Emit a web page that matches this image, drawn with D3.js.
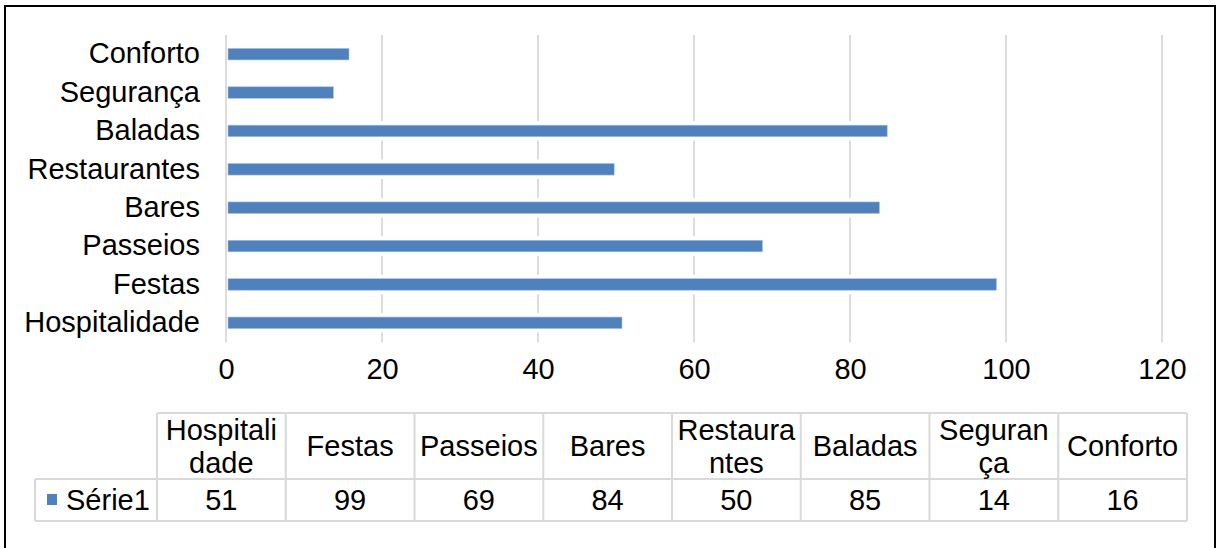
<!DOCTYPE html>
<html><head><meta charset="utf-8">
<script src="https://cdn.jsdelivr.net/npm/d3@7"></script>
<style>html,body{margin:0;padding:0;background:#fff;}svg{display:block;font-family:"Liberation Sans",Arial,sans-serif;}</style>
</head><body>
<svg id="c" width="1216" height="548"></svg>
<script>
const categories = ["Hospitalidade","Festas","Passeios","Bares","Restaurantes","Baladas","Segurança","Conforto"];
const values = [51, 99, 69, 84, 50, 85, 14, 16];
const seriesName = "Série1";
const xTicks = [0, 20, 40, 60, 80, 100, 120];

const svg = d3.select("#c");
const FS = 29;
const barColor = "#4f81bd";
const gridColor = "#d9d9d9";

// outer frame
svg.append("rect").attr("x",5).attr("y",6).attr("width",1210).attr("height",560)
  .attr("fill","none").attr("stroke","#000").attr("stroke-width",2);

const x = d3.scaleLinear().domain([0,120]).range([226,1162]);
const y = d3.scaleBand().domain(categories.slice().reverse()).range([35,342]).paddingInner(0.7).paddingOuter(0.35);

// gridlines
svg.append("g").selectAll("line").data(xTicks).join("line")
  .attr("x1",d=>x(d)).attr("x2",d=>x(d)).attr("y1",35).attr("y2",342)
  .attr("stroke",gridColor).attr("stroke-width",1.8);

// bar halos and bars
const bars = categories.map((c,i)=>({c, v: values[i]}));
svg.append("g").selectAll("rect").data(bars).join("rect")
  .attr("x",x(0)+1.5).attr("y",d=>y(d.c)-4).attr("width",d=>x(d.v)-x(0)-1.5).attr("height",y.bandwidth()+8)
  .attr("fill","#fff");
svg.append("g").selectAll("rect").data(bars).join("rect")
  .attr("x",x(0)+2).attr("y",d=>y(d.c)).attr("width",d=>x(d.v)-x(0)-3.8).attr("height",y.bandwidth())
  .attr("fill",barColor).attr("stroke","#a7bfdd").attr("stroke-width",0.6);

// y axis labels
const yAxis = d3.axisLeft(y).tickSize(0).tickPadding(0);
const yg = svg.append("g").attr("transform","translate(200,0)").call(yAxis);
yg.select(".domain").remove();
yg.selectAll("text").attr("font-size",FS).attr("fill","#000").attr("font-family","Liberation Sans, Arial, sans-serif");

// x axis labels
const xAxis = d3.axisBottom(x).tickValues(xTicks).tickSize(0).tickPadding(0).tickFormat(d3.format("d"));
const xg = svg.append("g").attr("transform","translate(0,358)").call(xAxis);
xg.select(".domain").remove();
xg.selectAll("text").attr("font-size",FS).attr("fill","#000").attr("font-family","Liberation Sans, Arial, sans-serif");

// data table
const tLeft = 157, tRight = 1187, legLeft = 35;
const rowTop = 413, rowMid = 479, rowBot = 521;
const col = d3.scaleBand().domain(categories).range([tLeft, tRight]);
const cw = col.bandwidth();
const tg = svg.append("g");
tg.append("line").attr("x1",tLeft).attr("x2",tRight).attr("y1",rowTop).attr("y2",rowTop);
tg.append("line").attr("x1",legLeft).attr("x2",tRight).attr("y1",rowMid).attr("y2",rowMid);
tg.append("line").attr("x1",legLeft).attr("x2",tRight).attr("y1",rowBot).attr("y2",rowBot);
tg.append("line").attr("x1",legLeft).attr("x2",legLeft).attr("y1",rowMid).attr("y2",rowBot);
tg.selectAll("line.v").data(d3.range(categories.length+1)).join("line").attr("class","v")
  .attr("x1",i=>tLeft+i*cw).attr("x2",i=>tLeft+i*cw).attr("y1",rowTop).attr("y2",rowBot);
tg.selectAll("line").attr("stroke",gridColor).attr("stroke-width",2);

// header texts with char wrapping
const maxW = cw - 9;
const lineH = 33;
categories.forEach(c=>{
  const cx = col(c) + cw/2;
  const t = svg.append("text").attr("font-size",FS).attr("text-anchor","middle").attr("fill","#000");
  const probe = svg.append("text").attr("font-size",FS);
  const lines = [];
  let cur = "";
  for (const ch of c) {
    probe.text(cur + ch);
    if (probe.node().getComputedTextLength() > maxW && cur.length) { lines.push(cur); cur = ch; }
    else cur += ch;
  }
  lines.push(cur);
  probe.remove();
  const cy = (rowTop + rowMid)/2;
  lines.forEach((ln,k)=>{
    t.append("tspan").attr("x",cx).attr("y", cy + (k - (lines.length-1)/2)*lineH).attr("dy","0.35em").text(ln);
  });
});
// values
svg.append("g").selectAll("text").data(bars).join("text")
  .attr("x",d=>col(d.c)+cw/2).attr("y",(rowMid+rowBot)/2).attr("dy","0.35em")
  .attr("text-anchor","middle").attr("font-size",FS).attr("fill","#000").text(d=>d.v);
// legend
svg.append("rect").attr("x",47).attr("y",494).attr("width",10).attr("height",11).attr("fill",barColor);
svg.append("text").attr("x",66).attr("y",(rowMid+rowBot)/2).attr("dy","0.35em").attr("font-size",FS).attr("fill","#000").text(seriesName);
</script>
</body></html>
